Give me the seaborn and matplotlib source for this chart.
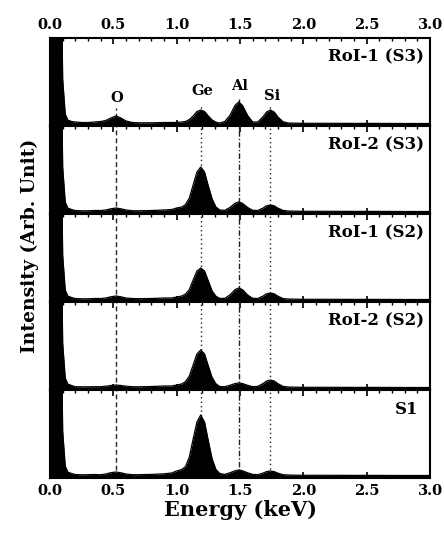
import numpy as np
import pandas as pd
import matplotlib
matplotlib.use("Agg")
import matplotlib.pyplot as plt
import seaborn as sns
from matplotlib.ticker import MultipleLocator, FormatStrFormatter

# ---------------- data ----------------
energy = [0.00, 0.02, 0.04, 0.06, 0.08, 0.10, 0.12, 0.14, 0.17,
          0.20, 0.25, 0.30, 0.35, 0.40, 0.44, 0.48, 0.52, 0.56, 0.60, 0.65, 0.70, 0.80, 0.90,
          0.96, 1.00, 1.04, 1.07, 1.10, 1.13, 1.16, 1.19, 1.22, 1.25, 1.28, 1.31, 1.34,
          1.38, 1.42, 1.46, 1.49, 1.52, 1.56, 1.60,
          1.64, 1.68, 1.71, 1.74, 1.77, 1.80, 1.84, 1.88,
          1.94, 2.00, 2.20, 2.40, 2.60, 2.80, 3.00]

zero_peak = [300, 300, 300, 300, 250, 45, 10, 4, 2.5]
tail = [0.8, 0.7, 0.7, 0.6, 0.6, 0.5, 0.5]

roi1_s3 = zero_peak + [2, 1.5, 1.5, 2, 2.5, 3.5, 6, 8, 6, 3, 1.5, 1.2, 1.2, 1.5] \
    + [1.5, 1.5, 2, 2.5, 4.5, 8, 12.5, 14, 12.5, 8, 4, 1.8, 1] \
    + [2.5, 8.5, 18.5, 22, 18.5, 8.5, 2] \
    + [2, 7, 12, 14, 12, 7, 2.2, 1] + tail
roi2_s3 = zero_peak + [1.5, 1.2, 1.2, 1.5, 1.5, 2, 3.2, 4, 3.2, 2, 1.3, 1.2, 1.5, 2] \
    + [2.5, 4, 5, 7.5, 14, 27, 40, 45, 40, 26, 13, 5, 2] \
    + [1.7, 4.5, 8.7, 10, 8.7, 4.5, 1.7] \
    + [1.5, 3.8, 6.2, 7, 6.2, 3.8, 1.6, 1] + tail
roi1_s2 = zero_peak + [1.5, 1.2, 1.2, 1.5, 1.5, 2, 3.2, 4, 3.2, 2, 1.5, 1.3, 1.5, 2] \
    + [2, 3, 4, 6, 10.5, 20, 29, 32, 29, 19, 9, 3.8, 1.5] \
    + [1.7, 5, 10.3, 12, 10.3, 5, 1.7] \
    + [1.5, 3.8, 6.2, 7, 6.2, 3.8, 1.4, 1] + tail
roi2_s2 = zero_peak + [1.3, 1.2, 1.2, 1.3, 1.3, 1.8, 2.5, 3, 2.5, 1.8, 1.3, 1.2, 1.5, 2] \
    + [2, 3, 4, 6.5, 12, 23, 34, 38, 34, 22, 10.5, 4.2, 1.5] \
    + [1.3, 2.7, 4.4, 5, 4.4, 2.7, 1.3] \
    + [1.6, 4.3, 7, 8, 7, 4.3, 1.6, 1] + tail
s1 = zero_peak + [1.5, 1.2, 1.3, 1.5, 1.3, 2, 3.3, 4, 3.2, 2, 1.3, 1.3, 1.6, 2.2] \
    + [3, 5, 6.5, 9.5, 19, 37, 54, 61, 54, 35, 17, 6.5, 2.5] \
    + [1.6, 3.2, 5.2, 6, 5.2, 3.2, 1.6] \
    + [1.3, 2.8, 4.4, 5, 4.4, 2.8, 1.3, 1] + tail

panel_names = ["RoI-1 (S3)", "RoI-2 (S3)", "RoI-1 (S2)", "RoI-2 (S2)", "S1"]
spectra = [roi1_s3, roi2_s3, roi1_s2, roi2_s2, s1]

element_names = ["O", "Ge", "Al", "Si"]
element_energy = [0.52, 1.19, 1.49, 1.74]
label_energy = [0.53, 1.20, 1.50, 1.75]
label_height = [26, 33, 38, 28]
line_top_first = [16, 18, 25, 19]
line_styles = [(0, (3.5, 2.2)), (0, (1.0, 2.2)), (0, (4, 1.5, 1, 1.5)), (0, (1.0, 2.2))]

frames = []
for name, vals in zip(panel_names, spectra):
    frames.append(pd.DataFrame({"energy": energy, "intensity": vals, "spectrum": name}))
df = pd.concat(frames, ignore_index=True)

# ---------------- style ----------------
sns.set_style("ticks")
plt.rcParams["font.family"] = ["DejaVu Serif"]
plt.rcParams["font.weight"] = "bold"
plt.rcParams["axes.labelweight"] = "bold"
plt.rcParams["text.color"] = "black"
plt.rcParams["axes.labelcolor"] = "black"
plt.rcParams["xtick.color"] = "black"
plt.rcParams["ytick.color"] = "black"

fig, axes = plt.subplots(5, 1, figsize=(4.44, 5.34), dpi=100, sharex=True)
fig.subplots_adjust(left=50 / 444, right=430 / 444, top=1 - 38 / 534, bottom=1 - 478 / 534, hspace=0)

for i, (ax, name) in enumerate(zip(axes, panel_names)):
    d = df[df["spectrum"] == name]
    ax.fill_between(d["energy"], d["intensity"], -5, color="black", lw=0, zorder=3)
    sns.lineplot(data=d, x="energy", y="intensity", color="black", lw=0.9, ax=ax,
                 zorder=4, legend=False)
    ax.set_xlim(0, 3)
    ax.set_ylim(-2, 86)
    ax.set_xlabel("")
    ax.set_ylabel("")
    ax.set_yticks([])
    for k, (xe, ls) in enumerate(zip(element_energy, line_styles)):
        top = line_top_first[k] if i == 0 else 90
        ax.vlines(xe, -2, top, colors="#222222", linestyles=[ls], lw=1.0, zorder=2)
    ax.text(0.97 if name == "S1" else 0.985, 0.78, name, transform=ax.transAxes,
            ha="right", va="center", fontsize=12, fontweight="bold", color="black")
    ax.xaxis.set_major_locator(MultipleLocator(0.5))
    ax.xaxis.set_minor_locator(MultipleLocator(0.1))
    ax.xaxis.set_major_formatter(FormatStrFormatter("%.1f"))
    ax.tick_params(axis="x", which="both", direction="in", top=True, bottom=True,
                   labelbottom=(i == 4), labeltop=(i == 0), labelsize=10.5, pad=4,
                   colors="black")
    ax.tick_params(axis="x", which="major", length=4, width=1.2)
    ax.tick_params(axis="x", which="minor", length=2.5, width=1.0)
    for sp in ax.spines.values():
        sp.set_linewidth(1.5)
        sp.set_color("black")
        sp.set_zorder(5)

for nm, xe, yh in zip(element_names, label_energy, label_height):
    axes[0].text(xe, yh, nm, ha="center", va="center", fontsize=10.5, fontweight="bold",
                 color="black")

axes[-1].set_xlabel("Energy (keV)", fontsize=15, fontweight="bold", labelpad=2, color="black")
fig.text(30 / 444, 1 - 246 / 534, "Intensity (Arb. Unit)", rotation=90, ha="center",
         va="center", fontsize=13.5, fontweight="bold", color="black")

fig.savefig("out.png", dpi=100)
